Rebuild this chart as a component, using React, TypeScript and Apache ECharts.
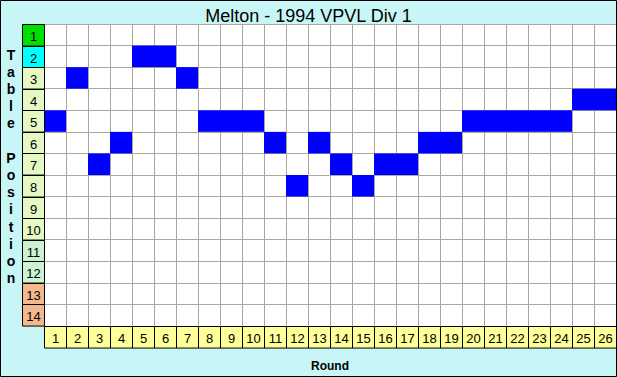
import React, { useEffect, useRef } from 'react';
import * as echarts from 'echarts';

const rounds = ['1','2','3','4','5','6','7','8','9','10','11','12','13','14','15','16','17','18','19','20','21','22','23','24','25','26'];
const positionLabels = ['1','2','3','4','5','6','7','8','9','10','11','12','13','14'];
const positions = [5,3,7,6,2,2,3,5,5,5,6,8,6,7,8,7,7,6,6,5,5,5,5,5,4,4];
const title = 'Melton - 1994 VPVL Div 1';
const yTitle = 'Table Position';
const xTitle = 'Round';

function labelColor(pos: number): string {
  if (pos === 1) return '#00e000';
  if (pos === 2) return '#00ffff';
  if (pos <= 10) return '#e6f8c4';
  if (pos <= 12) return '#ccf2d4';
  return '#f4b88c';
}

export default function App() {
  const ref = useRef<HTMLDivElement>(null);
  useEffect(() => {
    document.body.style.margin = '0';
    if (!ref.current) return;
    const chart = echarts.init(ref.current, undefined, { renderer: 'svg' });
    const cellData = positions.map((p, i) => [i, p - 1]);
    const yLabelData = positionLabels.map((_, i) => [0, i]);
    const xLabelData = rounds.map((_, i) => [i, positionLabels.length - 1]);
    chart.setOption({
      animation: false,
      backgroundColor: '#c8f6f6',
      title: {
        text: title,
        left: 'center',
        top: 2,
        textStyle: { fontFamily: 'Arial, Liberation Sans', fontSize: 18, fontWeight: 'normal', color: '#000' },
      },
      grid: { left: 44, top: 24, width: 572, height: 308, containLabel: false, show: true, backgroundColor: '#ffffff', borderWidth: 0 },
      xAxis: {
        type: 'category',
        data: rounds,
        boundaryGap: true,
        axisLine: { show: false },
        axisTick: { show: false },
        axisLabel: { show: false },
        splitLine: { show: true, interval: 0, lineStyle: { color: '#aca899', width: 1 } },
        name: xTitle,
        nameLocation: 'middle',
        nameGap: 34,
        nameTextStyle: { fontFamily: 'Arial, Liberation Sans', fontSize: 12, fontWeight: 'bold', color: '#000' },
      },
      yAxis: {
        type: 'category',
        data: positionLabels,
        inverse: true,
        boundaryGap: true,
        axisLine: { show: false },
        axisTick: { show: false },
        axisLabel: { show: false },
        splitLine: { show: true, interval: 0, lineStyle: { color: '#aca899', width: 1 } },
      },
      graphic: [
        {
          type: 'rect',
          shape: { x: 0.5, y: 0.5, width: 616, height: 376 },
          style: { fill: 'none', stroke: '#000', lineWidth: 1 },
          z: 100,
        },
        {
          type: 'text',
          x: 11,
          y: 46,
          style: {
            text: yTitle.split('').join('\n'),
            fontFamily: 'Arial, Liberation Sans',
            fontSize: 14,
            fontWeight: 'bold',
            lineHeight: 17.2,
            align: 'center',
            verticalAlign: 'top',
            fill: '#000',
          },
        },
      ],
      series: [
        {
          type: 'custom',
          data: cellData,
          renderItem: (params: any, api: any) => {
            const c = api.coord([api.value(0), api.value(1)]);
            const s = api.size([1, 1]);
            return {
              type: 'rect',
              shape: { x: c[0] - s[0] / 2, y: c[1] - s[1] / 2, width: s[0], height: s[1] },
              style: { fill: '#0000ff' },
            };
          },
          z: 3,
        },
        {
          type: 'custom',
          data: yLabelData,
          clip: false,
          renderItem: (params: any, api: any) => {
            const idx = api.value(1);
            const c = api.coord([0, idx]);
            const s = api.size([1, 1]);
            const x = Math.round(c[0] - 1.5 * s[0]) + 0.5;
            const y = Math.round(c[1] - s[1] / 2) + 0.5;
            return {
              type: 'group',
              children: [
                {
                  type: 'rect',
                  shape: { x, y, width: s[0], height: s[1] },
                  style: { fill: labelColor(idx + 1), stroke: '#000', lineWidth: 1 },
                },
                {
                  type: 'text',
                  x: x + s[0] / 2,
                  y: y + s[1] / 2 + 1,
                  style: {
                    text: positionLabels[idx],
                    fontFamily: 'Arial, Liberation Sans',
                    fontSize: 13,
                    fill: '#000',
                    align: 'center',
                    verticalAlign: 'middle',
                  },
                },
              ],
            };
          },
          z: 4,
        },
        {
          type: 'custom',
          data: xLabelData,
          clip: false,
          renderItem: (params: any, api: any) => {
            const idx = api.value(0);
            const c = api.coord([idx, positionLabels.length - 1]);
            const s = api.size([1, 1]);
            const x = Math.round(c[0] - s[0] / 2) + 0.5;
            const y = Math.round(c[1] + s[1] / 2) + 0.5;
            return {
              type: 'group',
              children: [
                {
                  type: 'rect',
                  shape: { x, y, width: s[0], height: s[1] },
                  style: { fill: '#ffff99', stroke: '#000', lineWidth: 1 },
                },
                {
                  type: 'text',
                  x: x + s[0] / 2,
                  y: y + s[1] / 2 + 1,
                  style: {
                    text: rounds[idx],
                    fontFamily: 'Arial, Liberation Sans',
                    fontSize: 13,
                    fill: '#000',
                    align: 'center',
                    verticalAlign: 'middle',
                  },
                },
              ],
            };
          },
          z: 4,
        },
      ],
    });
    return () => chart.dispose();
  }, []);
  return <div ref={ref} style={{ width: 617, height: 377 }} />;
}
